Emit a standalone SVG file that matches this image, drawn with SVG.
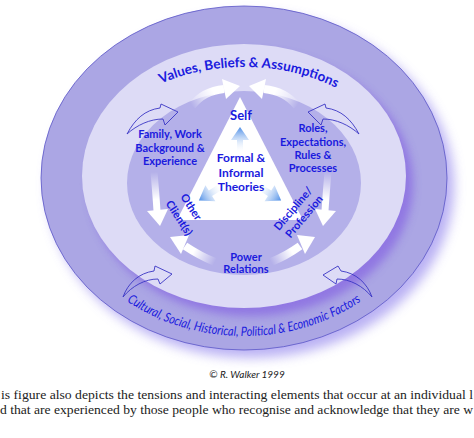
<svg xmlns="http://www.w3.org/2000/svg" xmlns:xlink="http://www.w3.org/1999/xlink" width="474" height="438" viewBox="0 0 474 438">
<style>
.lbl{font-family:Lato,"Open Sans","Liberation Sans",sans-serif;font-weight:700;fill:#1a1ade;text-anchor:middle;font-size:11px}
.big{font-size:12px}
.self{font-size:13px}
.arc{font-family:Lato,"Open Sans","Liberation Sans",sans-serif;fill:#1a1ade}
.copy{font-family:Lato,"Open Sans","Liberation Sans",sans-serif;font-style:italic;font-size:10px;fill:#222;text-anchor:middle}
.cap{font-family:"Liberation Serif","Times New Roman",serif;font-size:13px;fill:#222}
.outline{fill:none;stroke:#3a36c4;stroke-width:0.9;stroke-linejoin:miter}
.head{fill:#ffffff}
</style>
<defs>
<filter id="blur6" x="-20%" y="-20%" width="140%" height="140%"><feGaussianBlur stdDeviation="6"/></filter>
<filter id="blur4" x="-20%" y="-20%" width="140%" height="140%"><feGaussianBlur stdDeviation="4"/></filter>
<clipPath id="outerClip"><ellipse cx="244" cy="178" rx="203" ry="172"/></clipPath>
<linearGradient id="blueArr" x1="0" y1="1" x2="0" y2="0">
<stop offset="0" stop-color="#ffffff" stop-opacity="0"/>
<stop offset="1" stop-color="#4a8ce6"/>
</linearGradient>
<linearGradient id="g1" gradientUnits="userSpaceOnUse" x1="192" y1="106" x2="224" y2="89"><stop offset="0" stop-color="#fff" stop-opacity="0"/><stop offset="0.7" stop-color="#fff"/></linearGradient>
<linearGradient id="g2" gradientUnits="userSpaceOnUse" x1="297" y1="106" x2="264" y2="89"><stop offset="0" stop-color="#fff" stop-opacity="0"/><stop offset="0.7" stop-color="#fff"/></linearGradient>
<linearGradient id="g3" gradientUnits="userSpaceOnUse" x1="154" y1="172" x2="157" y2="211"><stop offset="0" stop-color="#fff" stop-opacity="0"/><stop offset="0.7" stop-color="#fff"/></linearGradient>
<linearGradient id="g4" gradientUnits="userSpaceOnUse" x1="328" y1="172" x2="325" y2="211"><stop offset="0" stop-color="#fff" stop-opacity="0"/><stop offset="0.7" stop-color="#fff"/></linearGradient>
<linearGradient id="g5" gradientUnits="userSpaceOnUse" x1="215" y1="262" x2="185" y2="246"><stop offset="0" stop-color="#fff" stop-opacity="0"/><stop offset="0.7" stop-color="#fff"/></linearGradient>
<linearGradient id="g6" gradientUnits="userSpaceOnUse" x1="271" y1="262" x2="300" y2="246"><stop offset="0" stop-color="#fff" stop-opacity="0"/><stop offset="0.7" stop-color="#fff"/></linearGradient>
<path id="topArc" d="M 88,176 A 156 109 0 0 1 400,176"/>
<path id="botArc" d="M 56,176 A 188 160 0 0 0 432,176"/>
<path id="blueShape" d="M -3,0 L -3,-13 L -9,-13 L 0,-26 L 9,-13 L 3,-13 L 3,0 Z"/>
</defs>

<g id="background">
<ellipse cx="251" cy="186" rx="203" ry="172" fill="#a397f0" opacity="0.75" filter="url(#blur6)"/>
<ellipse cx="244" cy="178" rx="203" ry="172" fill="#aba6e4" stroke="#5b55c8" stroke-width="0.8"/>
<g clip-path="url(#outerClip)">
<ellipse cx="251" cy="184" rx="162" ry="132" fill="#8c6fe2" opacity="0.85" filter="url(#blur4)"/>
</g>
<ellipse cx="244" cy="176" rx="162" ry="132" fill="#dddbf6"/>
<ellipse cx="244" cy="183" rx="117" ry="92" fill="#b4b0e9"/>
<polygon id="triangle" points="240,97 177,220 303,220" fill="#ffffff"/>
</g>

<g id="connectors">
<g id="white-arrows">
<path d="M 192,106 Q 203,91 224,89" fill="none" stroke="url(#g1)" stroke-width="8"/>
<polygon class="head" points="240,86 222,79 226,99"/>
<path d="M 297,106 Q 285,91 264,89" fill="none" stroke="url(#g2)" stroke-width="8"/>
<polygon class="head" points="249,86 266,79 262,99"/>
<path d="M 154,172 Q 156,195 157,211" fill="none" stroke="url(#g3)" stroke-width="7"/>
<polygon class="head" points="160,226 147,211 168,209"/>
<path d="M 328,172 Q 326,195 325,211" fill="none" stroke="url(#g4)" stroke-width="7"/>
<polygon class="head" points="323,226 315,209 336,211"/>
<path d="M 215,262 Q 200,256 185,246" fill="none" stroke="url(#g5)" stroke-width="8"/>
<polygon class="head" points="170,237 189,235 181,254"/>
<path d="M 271,262 Q 286,256 300,246" fill="none" stroke="url(#g6)" stroke-width="8"/>
<polygon class="head" points="315,237 297,235 305,254"/>
</g>
<g id="blue-arrows">
<use xlink:href="#blueShape" href="#blueShape" fill="url(#blueArr)" transform="translate(240,153)"/>
<use xlink:href="#blueShape" href="#blueShape" fill="url(#blueArr)" transform="translate(222,186) rotate(-122) scale(1.05)"/>
<use xlink:href="#blueShape" href="#blueShape" fill="url(#blueArr)" transform="translate(258,186) rotate(122) scale(1.05)"/>
</g>
<g id="outline-arrows">
<path class="outline" d="M 127,134 C 135,119 145,110 160,108 L 161,104 L 178,112 L 165,125 L 163,119 C 150,119 137,125 127,134 Z"/>
<path class="outline" d="M 359,134 C 351,119 341,110 326,108 L 325,104 L 308,112 L 321,125 L 323,119 C 336,119 349,125 359,134 Z"/>
<path class="outline" d="M 123,297 C 128,283 139,273 154,271 L 155,266 L 172,274 L 160,284 L 158,279 C 145,279 132,286 123,297 Z"/>
<path class="outline" d="M 372,297 C 367,283 356,273 341,271 L 338,266 L 323,275 L 336,284 L 337,279 C 350,279 363,286 372,297 Z"/>
</g>
</g>

<g id="node-values">
<text class="arc" font-size="13.5" font-weight="700"><textPath href="#topArc" xlink:href="#topArc" startOffset="51.2%" text-anchor="middle">Values, Beliefs &amp; Assumptions</textPath></text>
</g>
<g id="node-cultural">
<text class="arc" font-size="13" font-style="italic"><textPath href="#botArc" xlink:href="#botArc" startOffset="50%" text-anchor="middle" textLength="248" lengthAdjust="spacingAndGlyphs">Cultural, Social, Historical, Political &amp; Economic Factors</textPath></text>
</g>
<g id="node-self"><text class="lbl self" x="241" y="120">Self</text></g>
<g id="node-theories">
<text class="lbl big" x="241" y="162">Formal &amp;</text>
<text class="lbl big" x="241" y="177">Informal</text>
<text class="lbl big" x="241" y="191">Theories</text>
</g>
<g id="node-family">
<text class="lbl" x="170" y="138">Family, Work</text>
<text class="lbl" x="170" y="152">Background &amp;</text>
<text class="lbl" x="170" y="165">Experience</text>
</g>
<g id="node-roles">
<text class="lbl" x="313" y="132">Roles,</text>
<text class="lbl" x="313" y="146">Expectations,</text>
<text class="lbl" x="313" y="159">Rules &amp;</text>
<text class="lbl" x="313" y="172">Processes</text>
</g>
<g id="node-clients">
<text class="lbl" transform="translate(188,209) rotate(57)">Other</text>
<text class="lbl" transform="translate(176,220) rotate(57)">Client(s)</text>
</g>
<g id="node-discipline">
<text class="lbl" transform="translate(296,211) rotate(-50)">Discipline/</text>
<text class="lbl" transform="translate(307,219) rotate(-50)">Profession</text>
</g>
<g id="node-power">
<text class="lbl" x="246" y="261">Power</text>
<text class="lbl" x="246" y="273">Relations</text>
</g>

<text class="copy" x="247" y="378">© R. Walker 1999</text>
<text class="cap" x="1" y="399" textLength="472" lengthAdjust="spacingAndGlyphs">is figure also depicts the tensions and interacting elements that occur at an individual l</text>
<text class="cap" x="0" y="414" textLength="473" lengthAdjust="spacingAndGlyphs">d that are experienced by those people who recognise and acknowledge that they are w</text>
</svg>
